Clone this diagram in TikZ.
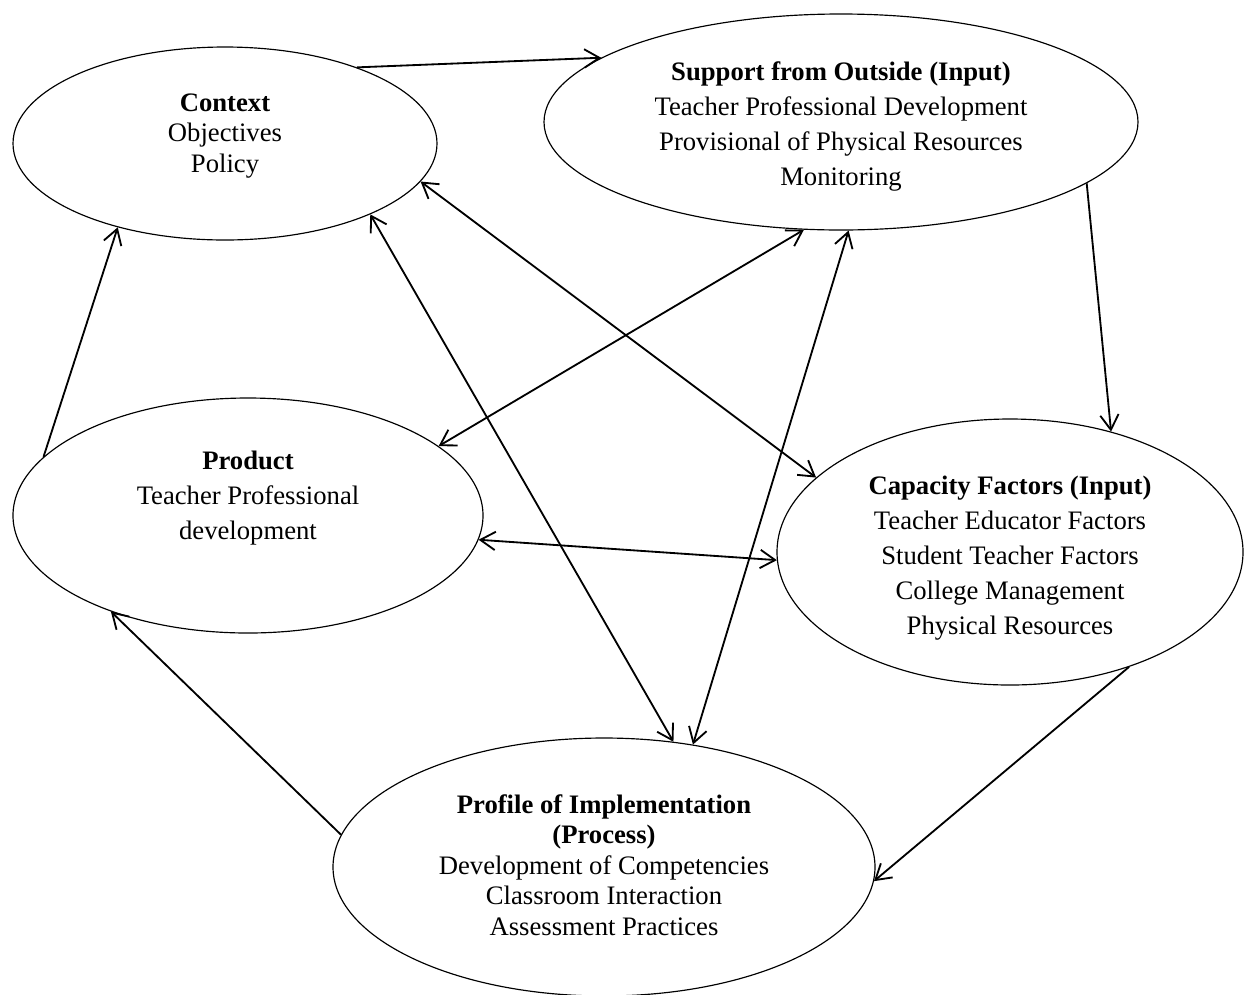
\documentclass[tikz,border=0pt]{standalone}
\usepackage{fontspec}
\setmainfont{Liberation Serif}
\usetikzlibrary{arrows.meta,shapes.geometric}

\begin{document}
\begin{tikzpicture}[x=0.6pt,y=-0.6pt,
  oval/.style={ellipse, draw, line width=0.7pt, inner sep=0pt},
  link/.style={-{Straight Barb[length=9pt,width=11pt]}, line width=1.1pt},
  both/.style={{Straight Barb[length=9pt,width=11pt]}-{Straight Barb[length=9pt,width=11pt]}, line width=1.1pt},
  wide/.style={align=center, font=\fontsize{16}{21}\selectfont},
  tight/.style={align=center, font=\fontsize{16}{18.3}\selectfont}]
\useasboundingbox (0,0) rectangle (1246,994);

% the five ovals
\node[oval, minimum width=254.4pt, minimum height=115.8pt] (ctx) at (225,143.5) {};
\node[oval, minimum width=356.4pt, minimum height=129.6pt] (sup) at (841,122) {};
\node[oval, minimum width=282pt, minimum height=141pt] (prod) at (248,515.5) {};
\node[oval, minimum width=279.6pt, minimum height=159.6pt] (cap) at (1010,552) {};
\node[oval, minimum width=325.2pt, minimum height=154.8pt] (prof) at (604,867) {};

\node[tight] (ctxtext) at (225,136) {\textbf{Context}\\Objectives\\Policy};
\node[wide] (suptext) at (841,126) {\textbf{Support from Outside (Input)}\\Teacher Professional Development\\Provisional of Physical Resources\\Monitoring};
\node[wide] (prodtext) at (248,498) {\textbf{Product}\\Teacher Professional\\development};
\node[wide] (captext) at (1010,558) {\textbf{Capacity Factors (Input)}\\Teacher Educator Factors\\Student Teacher Factors\\College Management\\Physical Resources};
\node[tight] (proftext) at (604,865) {\textbf{Profile of Implementation}\\\textbf{(Process)}\\Development of Competencies\\Classroom Interaction\\Assessment Practices};

% one way
\draw[link] (ctx.30.7) -- (sup.165);
\draw[link] (sup.-14.8) -- (cap.50.1);
\draw[link] (cap.-44.8) -- (prof.-3.4);
\draw[link] (prof.173.9) -- (prod.215.3);
\draw[link] (prod.164.3) -- (ctx.218.6);

% both ways
\draw[both] (ctx.-11.5) -- (cap.159.4);
\draw[both] (ctx.-26.4) -- (prof.61.8);
\draw[both] (sup.-109.5) -- (prod.20.9);
\draw[both] (sup.-86.4) -- (prof.54.2);
\draw[both] (prod.-6.1) -- (cap.182.5);
\end{tikzpicture}
\end{document}
